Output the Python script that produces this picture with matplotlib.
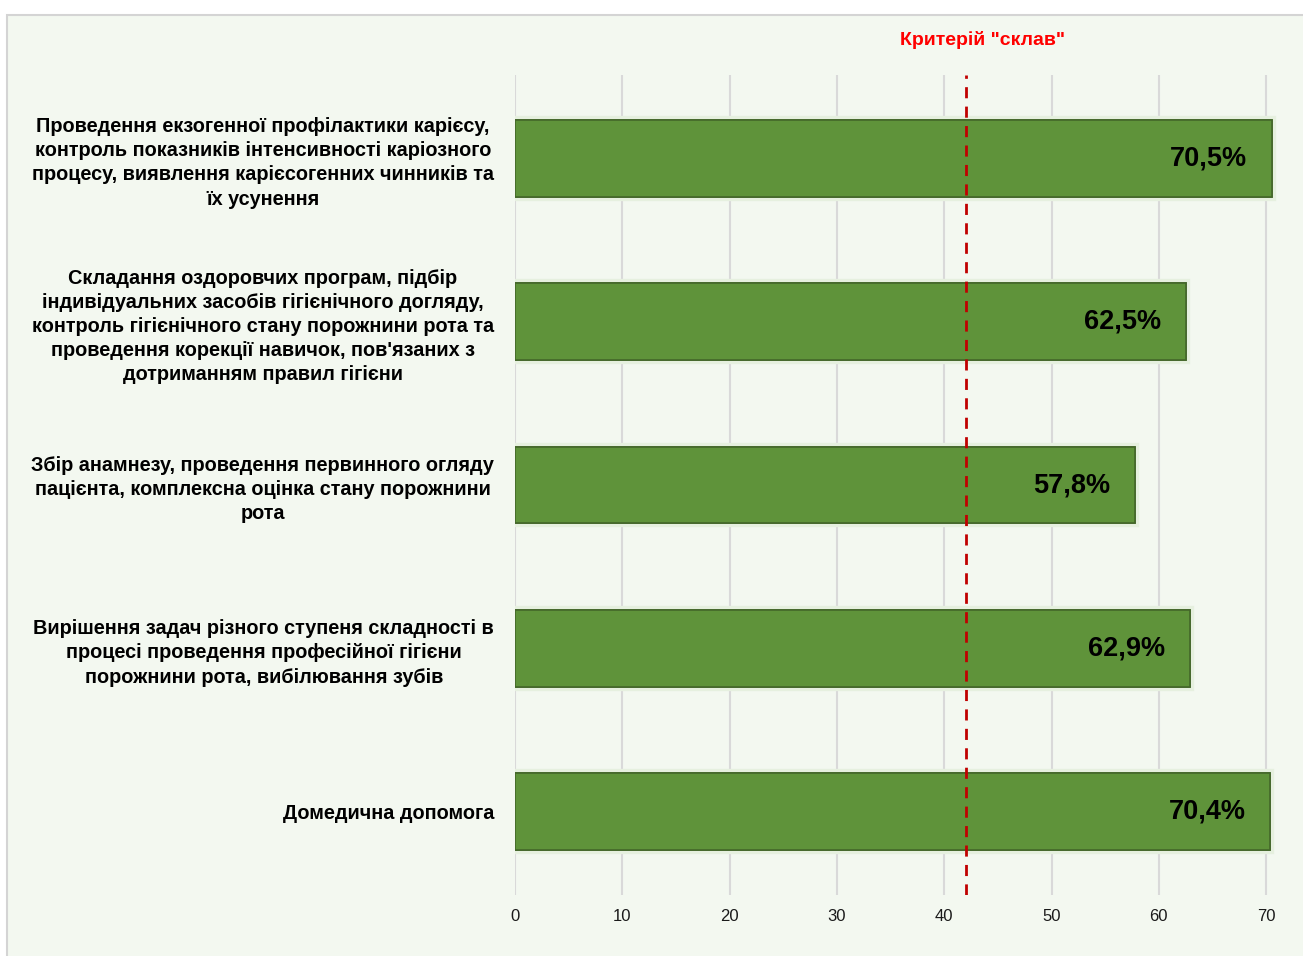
import matplotlib.pyplot as plt
import matplotlib.patheffects as pe
from matplotlib.patches import Rectangle

categories = [
    "Проведення екзогенної профілактики карієсу,\nконтроль показників інтенсивності каріозного\nпроцесу, виявлення карієсогенних чинників та\nїх усунення",
    "Складання оздоровчих програм, підбір\nіндивідуальних засобів гігієнічного догляду,\nконтроль гігієнічного стану порожнини рота та\nпроведення корекції навичок, пов'язаних з\nдотриманням правил гігієни",
    "Збір анамнезу, проведення первинного огляду\nпацієнта, комплексна оцінка стану порожнини\nрота",
    "Вирішення задач різного ступеня складності в\nпроцесі проведення професійної гігієни\nпорожнини рота, вибілювання зубів",
    "Домедична допомога",
]
values = [70.5, 62.5, 57.8, 62.9, 70.4]
value_labels = ["70,5%", "62,5%", "57,8%", "62,9%", "70,4%"]
criterion = 42.0
criterion_label = 'Критерій "склав"'
x_ticks = [0, 10, 20, 30, 40, 50, 60, 70]

plt.rcParams['font.family'] = ['Liberation Sans', 'DejaVu Sans']

fig = plt.figure(figsize=(13.03, 9.56), dpi=100)
fig.patch.set_facecolor('white')

# panel frame behind the axes
fig.patches.append(Rectangle((0.0054, -0.01), 1.0, 0.994, transform=fig.transFigure,
                             facecolor='#f3f8f0', edgecolor='#d4d4d4', linewidth=1.5, zorder=-10))

ax = fig.add_axes([0.3952, 0.0638, 0.593, 0.8577])
ax.set_zorder(1)
ax.set_facecolor('none')

pos = list(range(len(categories)))
bars = ax.barh(pos, values, height=0.47, color='#5f933a', edgecolor='#44672a',
               linewidth=1.2, zorder=3)
for b in bars:
    b.set_path_effects([pe.withStroke(linewidth=6, foreground='#e6f0df'), pe.Normal()])

for p, v, lab in zip(pos, values, value_labels):
    ax.annotate(lab, (v, p), xytext=(-18, 0), textcoords='offset points',
                ha='right', va='center', fontsize=19.5, fontweight='bold', color='black', zorder=5)

ax.axvline(criterion, color='#c00000', linestyle=(0, (4, 3)), linewidth=2, zorder=4)
fig.text(0.7544, 0.958, criterion_label, color='#ff0000', fontsize=14, fontweight='bold',
         ha='center', va='center')

ax.set_xlim(0, 72)
ax.set_ylim(4.51, -0.51)
ax.set_xticks(x_ticks)
ax.set_yticks(pos)
ax.set_yticklabels(categories, fontsize=14.3, fontweight='bold', multialignment='center',
                   linespacing=1.34)
ax.tick_params(axis='both', length=0)
ax.tick_params(axis='y', pad=15)
ax.tick_params(axis='x', pad=10, labelsize=12, labelcolor='#1a1a1a')
ax.grid(axis='x', color='#d9d9d9', linewidth=1.5, zorder=0)
ax.set_axisbelow(True)
for s in ax.spines.values():
    s.set_visible(False)

fig.savefig('out.png', dpi=100)
